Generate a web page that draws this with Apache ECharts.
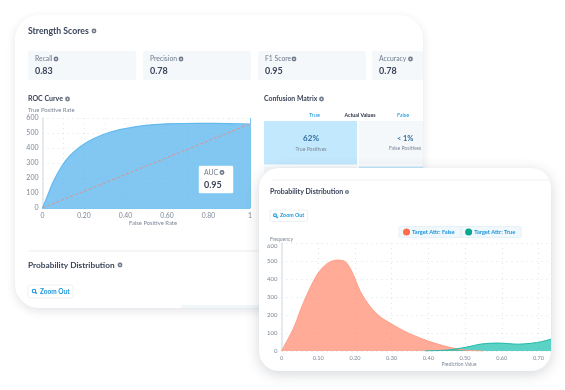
<!DOCTYPE html>
<html><head><meta charset="utf-8">
<style>html,body{margin:0;padding:0;background:#fff}#c{width:565px;height:390px}</style>
<script src="https://cdn.jsdelivr.net/npm/echarts@6/dist/echarts.min.js"></script>
</head><body><div id="c"></div>
<script>
const scoreNames = ['Recall', 'Precision', 'F1 Score', 'Accuracy'];
const scoreValues = ['0.83', '0.78', '0.95', '0.78'];
const aucValue = '0.95';
const rocCurve = [[0,0],[0.02,66],[0.05,170],[0.09,272],[0.13,345],[0.18,407],[0.24,458],[0.317,502],[0.398,529],[0.486,549],[0.6,561],[0.75,565],[0.9,563],[1,560]];
const rocDiagonal = [[0,0],[1,560]];
const attrFalse = [[0,0],[0.033,128],[0.06,270],[0.097,425],[0.124,485],[0.151,505],[0.174,496],[0.192,440],[0.215,330],[0.242,246],[0.269,190],[0.30,150],[0.345,100],[0.40,55],[0.455,22],[0.50,5],[0.55,0]];
const attrTrue = [[0.39,0],[0.45,5],[0.50,20],[0.545,39],[0.59,44],[0.645,38],[0.68,43],[0.708,52],[0.734,66]];
const cmCols = [0,1,0,1];
const cmRows = [0,0,1,1];
const cmValues = ['62%','< 1%','',''];
const cmNames = ['True Positives','False Positives','',''];
const cmColors = ['#c2e8fd','#f4f8fb','#f4f8fb','#c2e8fd'];

const FONT = 'Lato';
const DARK = '#3a445a', GRAY = '#7d8897', BLUE = '#1b95dc';

function txt(x, y, text, size, color, weight, align, zlevel) {
  return {type:'text', x, y, z:100, zlevel:zlevel||0, silent:true,
    style:{text, fontFamily:FONT, fontSize:size, fill:color, fontWeight:weight||'normal', align:align||'left', verticalAlign:'middle'}};
}
function info(x, y, zlevel, r) {
  r = r || 2.4;
  return {type:'group', z:100, zlevel:zlevel||0, silent:true, children:[
    {type:'circle', z:100, zlevel:zlevel||0, shape:{cx:x, cy:y, r}, style:{fill:'#6f7b8b'}},
    {type:'circle', z:101, zlevel:zlevel||0, shape:{cx:x, cy:y, r:r*0.35}, style:{fill:'#fff'}}
  ]};
}
function zoomBtn(x, y, w, h, size, textDx, zlevel) {
  const z = zlevel||0, cx = x+textDx*0.5, cy = y+h/2-0.5;
  return [
    {type:'rect', z:90, zlevel:z, shape:{x, y, width:w, height:h, r:2}, style:{fill:'#fff', stroke:'#eef1f4', lineWidth:1}},
    {type:'circle', z:100, zlevel:z, shape:{cx, cy, r:size*0.27}, style:{fill:'none', stroke:BLUE, lineWidth:1.1}},
    {type:'line', z:100, zlevel:z, shape:{x1:cx+1.3, y1:cy+1.3, x2:cx+2.8, y2:cy+2.8}, style:{stroke:BLUE, lineWidth:1.3}},
    txt(x+textDx, y+h/2, 'Zoom Out', size, BLUE, 'bold', 'left', z)
  ];
}
const boxX = [28,143,258,372], boxW = [108,108,108,51];
const iconX = [56,181,294,410.5];
const g = [];
// back card
g.push({type:'rect', z:-10, shape:{x:15, y:15, width:408, height:293, r:24},
  style:{fill:'#fff', shadowBlur:10, shadowColor:'rgba(40,50,70,0.13)', shadowOffsetY:3}});
g.push(txt(28,31,'Strength Scores',8.7,DARK,'bold'));
g.push(info(94,31));
scoreNames.forEach((n,i)=>{
  g.push({type:'rect', z:-5, shape:{x:boxX[i], y:51, width:boxW[i], height:29, r:2}, style:{fill:'#f4f8fb'}});
  g.push(txt(boxX[i]+7,59,n,6.8,'#6f7b8b'));
  g.push(info(iconX[i],59));
  g.push(txt(boxX[i]+7,71,scoreValues[i],9,DARK,'bold'));
});
g.push(txt(28,99,'ROC Curve',7,DARK,'bold'));
g.push(info(67.5,99));
g.push(txt(28,110,'True Positive Rate',5.9,GRAY));
g.push(txt(153,223.5,'False Positive Rate',5.9,GRAY,'normal','center'));
g.push({type:'rect', z:50, shape:{x:198, y:165, width:36, height:29, r:2}, style:{fill:'#fff', stroke:'#7cc7f0', lineWidth:1.5}});
g.push(txt(204,172.5,'AUC',6.9,'#6f7b8b'));
g.push(info(222,172.5));
g.push(txt(204,185,aucValue,9,DARK,'bold'));
g.push(txt(264,99,'Confusion Matrix',6.9,DARK,'bold'));
g.push(info(321.5,99));
g.push(txt(314.5,115,'True',5.6,BLUE,'normal','center'));
g.push(txt(360,115,'Actual Values',5.2,'#2b3346','bold','center'));
g.push(txt(403,115,'False',5.6,BLUE,'normal','center'));
g.push({type:'line', z:-5, shape:{x1:29, y1:251, x2:262, y2:251}, style:{stroke:'#f0f2f4', lineWidth:1.5}});
g.push(txt(28,265,'Probability Distribution',8.3,DARK,'bold'));
g.push(info(120,265));
zoomBtn(28,285,45,13,6.5,12,0).forEach(e=>g.push(e));
g.push({type:'rect', z:-5, shape:{x:181, y:305, width:80, height:3}, style:{fill:'#eff7fa'}});
// front card
g.push({type:'rect', z:-10, zlevel:1, shape:{x:259, y:168, width:292, height:203, r:20},
  style:{fill:'#fff', shadowBlur:14, shadowColor:'rgba(40,50,70,0.2)', shadowOffsetY:3}});
g.push({type:'line', z:-5, zlevel:1, shape:{x1:271, y1:180, x2:551, y2:180}, style:{stroke:'#f3f4f6', lineWidth:1.2}});
g.push(txt(270,192,'Probability Distribution',7,DARK,'bold','left',1));
g.push(info(347,192,1,2));
zoomBtn(270,210,37.5,11.5,5.3,10,1).forEach(e=>g.push(e));
g.push(txt(270,239,'Frequency',5,GRAY,'normal','left',1));
g.push(txt(459,364,'Prediction Value',4.9,GRAY,'normal','center',1));
g.push({type:'rect', z:50, zlevel:1, shape:{x:399, y:226.5, width:122, height:11, r:1.5}, style:{fill:'#f0f8fc', stroke:'#e6f2f8', lineWidth:1}});
g.push({type:'line', z:51, zlevel:1, shape:{x1:461, y1:226.5, x2:461, y2:237.5}, style:{stroke:'#e0eef5', lineWidth:1}});

const dotted = {show:true, lineStyle:{type:[1,4], color:'#dfe3e8', width:1}};
const tick2 = v => v===0 ? '0' : v===1 ? '1' : (Math.round(v*100)%20===0 ? v.toFixed(2) : '');

const option = {
  animation:false,
  backgroundColor:'#fff',
  graphic:{elements:g},
  legend:{zlevel:1, z:60, left:403, top:228.5, itemWidth:7, itemHeight:7, itemGap:10.5, padding:0, icon:'circle',
    data:['Target Attr: False','Target Attr: True'],
    textStyle:{fontFamily:FONT, fontSize:5.7, fontWeight:'bold', color:BLUE, padding:[0,0,0,-3]},
    selectedMode:false},
  grid:[
    {left:42.5, top:118, width:207.5, height:90},
    {left:264, top:121, width:159, height:89},
    {left:281.5, top:243, width:269.5, height:108}
  ],
  xAxis:[
    {gridIndex:0, type:'value', min:0, max:1, interval:0.1,
     axisLine:{show:true, lineStyle:{color:'#7cc7f0', width:1}}, axisTick:{show:false}, splitLine:dotted,
     axisLabel:{formatter:tick2, fontFamily:FONT, fontSize:6.8, color:GRAY, margin:4}},
    {gridIndex:1, type:'value', min:0, max:1.69, show:false},
    {gridIndex:2, type:'value', min:0, max:0.734, interval:0.1, zlevel:1,
     axisLine:{show:false}, axisTick:{show:false}, splitLine:dotted,
     axisLabel:{formatter:v=>v===0?'0':v.toFixed(2), fontFamily:FONT, fontSize:5.6, color:GRAY, margin:4, showMaxLabel:false}}
  ],
  yAxis:[
    {gridIndex:0, type:'value', min:0, max:600, interval:100,
     axisLine:{show:true, lineStyle:{color:'#dfe3ea', width:1.5}}, axisTick:{show:false}, splitLine:dotted,
     axisLabel:{fontFamily:FONT, fontSize:7, color:GRAY, margin:4}},
    {gridIndex:1, type:'value', min:0, max:2, inverse:true, show:false},
    {gridIndex:2, type:'value', min:0, max:600, interval:100, zlevel:1,
     axisLine:{show:true, lineStyle:{color:'#dfe3ea', width:1.5}}, axisTick:{show:false}, splitLine:dotted,
     axisLabel:{fontFamily:FONT, fontSize:6, color:GRAY, margin:4, verticalAlignMaxLabel:'top'}}
  ],
  series:[
    {type:'line', name:'ROC', xAxisIndex:0, yAxisIndex:0, data:rocCurve, smooth:0.3, symbol:'none',
     lineStyle:{color:'#62b9ee', width:1.2}, areaStyle:{color:'#5fb7ee', opacity:0.78},
     markLine:{silent:true, symbol:'none', label:{show:false}, lineStyle:{type:'solid', color:'#7cc7f0', width:1}, data:[{xAxis:1}]}},
    {type:'line', name:'Chance', xAxisIndex:0, yAxisIndex:0, data:rocDiagonal, symbol:'none',
     lineStyle:{color:'#e0908c', width:1, type:[3,2]}},
    {type:'custom', name:'Confusion', xAxisIndex:1, yAxisIndex:1, data:cmCols.map((c,i)=>[c,cmRows[i]]),
     renderItem:(params, api)=>{
       const i = params.dataIndex;
       const c = api.value(0), r = api.value(1);
       const p0 = api.coord([c,r]), p1 = api.coord([c+1,r+1]);
       const cs = params.coordSys;
       const rect = echarts.graphic.clipRectByRect(
         {x:p0[0]+(c?1:0), y:p0[1]+(r?1:0), width:p1[0]-p0[0]-1, height:p1[1]-p0[1]-1},
         {x:cs.x, y:cs.y, width:cs.width, height:cs.height});
       if(!rect) return null;
       const cx = (p0[0]+p1[0])/2;
       return {type:'group', children:[
         {type:'rect', shape:rect, style:{fill:cmColors[i]}},
         {type:'text', x:cx, y:p0[1]+(c?18:17), style:{text:cmValues[i], fontFamily:FONT, fontSize:c?7.4:8, fontWeight:'bold', fill:'#2f6c9c', align:'center', verticalAlign:'middle'}},
         {type:'text', x:cx, y:p0[1]+(c?27:28), style:{text:cmNames[i], fontFamily:FONT, fontSize:5.1, fill:'#7d8897', align:'center', verticalAlign:'middle'}}
       ]};
     }},
    {type:'line', name:'Target Attr: False', xAxisIndex:2, yAxisIndex:2, zlevel:1, data:attrFalse, smooth:0.3, symbol:'none',
     color:'#ff6b4a', lineStyle:{color:'#ff9f8a', width:1}, areaStyle:{color:'#ff8a70', opacity:0.72},
     markLine:{silent:true, symbol:'none', label:{show:false}, lineStyle:{type:'solid', color:'#ffa793', width:1}, data:[[{coord:[0,0]},{coord:[0.55,0]}]]}},
    {type:'line', name:'Target Attr: True', xAxisIndex:2, yAxisIndex:2, zlevel:1, data:attrTrue, smooth:0.3, symbol:'none',
     color:'#05a88f', lineStyle:{color:'#22b8a6', width:1}, areaStyle:{color:'#1cc0ae', opacity:0.72},
     markLine:{silent:true, symbol:'none', label:{show:false}, lineStyle:{type:'solid', color:'#22b8a6', width:1}, data:[[{coord:[0.39,0]},{coord:[0.734,0]}]]}}
  ]
};
echarts.init(document.getElementById('c'), null, {renderer:'canvas'}).setOption(option);
</script></body></html>
